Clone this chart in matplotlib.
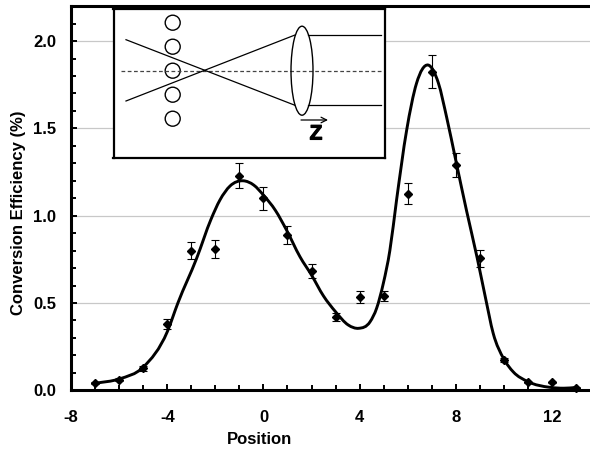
import numpy as np
import matplotlib
matplotlib.use('Agg')
import matplotlib.pyplot as plt
import matplotlib.patheffects as pe
from matplotlib.patches import Circle, Ellipse, PathPatch
from matplotlib.path import Path

plt.rcParams['font.family'] = ['Liberation Sans', 'DejaVu Sans']
plt.rcParams['font.weight'] = 'bold'

# measured points
positions = [-7, -6, -5, -4, -3, -2, -1, 0, 1, 2, 3, 4, 5, 6, 7, 8, 9, 10, 11, 12, 13]
efficiency = [0.04, 0.06, 0.125, 0.38, 0.80, 0.81, 1.23, 1.10, 0.89, 0.685, 0.42, 0.535, 0.54,
              1.125, 1.825, 1.29, 0.755, 0.175, 0.045, 0.045, 0.015]
errors = [0.005, 0.008, 0.012, 0.03, 0.05, 0.05, 0.07, 0.065, 0.05, 0.04, 0.025, 0.035, 0.03,
          0.06, 0.095, 0.07, 0.05, 0.012, 0.005, 0.005, 0.003]

# fitted curve
curve_x = [-7, -6, -5, -4, -3.56, -2.78, -2.18, -1.81, -1.39, -0.84, -0.4, 0, 0.5, 0.96, 1.52, 2, 2.5,
           3, 3.53, 3.96, 4.44, 4.71, 4.99, 5.26, 5.54, 5.96, 6.37, 6.85, 7.28, 7.63, 8, 8.45, 8.9,
           9.24, 9.56, 10, 10.4, 11, 11.92, 12.5, 13]
curve_y = [0.04, 0.065, 0.133, 0.336, 0.50, 0.756, 0.98, 1.09, 1.17, 1.20, 1.175, 1.118, 1.03, 0.918,
           0.765, 0.66, 0.54, 0.45, 0.374, 0.355, 0.393, 0.47, 0.613, 0.80, 1.09, 1.49, 1.758, 1.863,
           1.76, 1.56, 1.32, 1.03, 0.755, 0.53, 0.327, 0.18, 0.105, 0.05, 0.017, 0.012, 0.016]

xticks = [-8, -4, 0, 4, 8, 12]
yticks = [0.0, 0.5, 1.0, 1.5, 2.0]


def smooth_path(x, y):
    # bezier through the read points, like a spreadsheet smoothed line
    x = np.array(x)
    y = np.array(y)
    m = np.gradient(y, x)
    verts = [(x[0], y[0])]
    codes = [Path.MOVETO]
    for i in range(len(x)-1):
        h = x[i+1]-x[i]
        verts += [(x[i]+h/3, y[i]+m[i]*h/3), (x[i+1]-h/3, y[i+1]-m[i+1]*h/3), (x[i+1], y[i+1])]
        codes += [Path.CURVE4]*3
    return Path(verts, codes)


W, H = 590, 451
fig = plt.figure(figsize=(W/100, H/100), dpi=100)

L, T, B = 71.2, 5.5, 390.3
ax = fig.add_axes([L/W, 1-B/H, (W-L)/W, (B-T)/H])
ax.set_xlim(-8, -8+(W-L)/24.03)
ax.set_ylim(0, (B-T)/174.6)

ax.add_patch(PathPatch(smooth_path(curve_x, curve_y), fc='none', ec='black', lw=2.1, zorder=3, clip_on=False))
ax.errorbar(positions, efficiency, yerr=errors, fmt='D', color='black', ms=4.2, elinewidth=0.8,
            capsize=3, capthick=0.8, zorder=4, clip_on=False)

ax.set_xticks(xticks)
ax.set_xticklabels([str(v) for v in xticks])
ax.set_yticks(yticks)
ax.set_yticklabels(['%.1f' % v for v in yticks])
ax.set_xticks(np.arange(-7, 14), minor=True)
ax.set_yticks(np.arange(0, 2.25, 0.1), minor=True)
ax.tick_params(axis='both', which='major', direction='in', length=4.5, width=1.4, labelsize=12)
ax.tick_params(axis='both', which='minor', direction='in', length=3.5, width=1.4)
ax.tick_params(axis='x', which='major', pad=14)
ax.tick_params(axis='y', which='major', pad=11)
ax.grid(True, axis='y', which='major', color='#c8c8c8', lw=0.9)
ax.set_axisbelow(True)

ax.spines['right'].set_visible(False)
for s in ['left', 'bottom', 'top']:
    ax.spines[s].set_linewidth(2.2)

fig.text(260/W, 1-440/H, 'Position', ha='center', va='center', fontsize=12)
fig.text(19/W, 1-213/H, 'Conversion Efficiency (%)', ha='center', va='center', rotation=90, fontsize=12)

# schematic inset, drawn in picture pixels
ins = fig.add_axes([113.5/W, 1-157.7/H, (385-113.5)/W, (157.7-8.7)/H], zorder=5)
ins.set_xlim(113.5, 385)
ins.set_ylim(157.7, 8.7)
ins.set_xticks([])
ins.set_yticks([])
for s in ins.spines.values():
    s.set_linewidth(1.6)

for cy in [22.7, 46.7, 70.7, 94.7, 118.7]:
    ins.add_patch(Circle((172.7, cy), 7.5, fc='white', ec='black', lw=1.0, zorder=2))
ins.plot([121, 382], [70.7, 70.7], color='#444444', lw=0.9, ls=(0, (3, 2)), zorder=3)
ins.plot([126, 295], [39.7, 105.3], color='black', lw=0.9, zorder=4)
ins.plot([126, 295], [101, 35], color='black', lw=0.9, zorder=4)
ins.add_patch(Ellipse((302, 70.7), 22, 89, fc='none', ec='black', lw=1.0, zorder=4))
ins.plot([308, 381], [34.5, 34.5], color='black', lw=0.9)
ins.plot([308, 381], [105.2, 105.2], color='black', lw=0.9)
ins.annotate('', xy=(328, 120), xytext=(301, 120),
             arrowprops=dict(arrowstyle='->', lw=0.9, color='black', shrinkA=0, shrinkB=0, mutation_scale=10))
ins.text(316, 134, 'Z', ha='center', va='center', fontsize=15, fontweight='bold',
         path_effects=[pe.withStroke(linewidth=0.8, foreground='black')])

fig.savefig('out.png', dpi=100)
